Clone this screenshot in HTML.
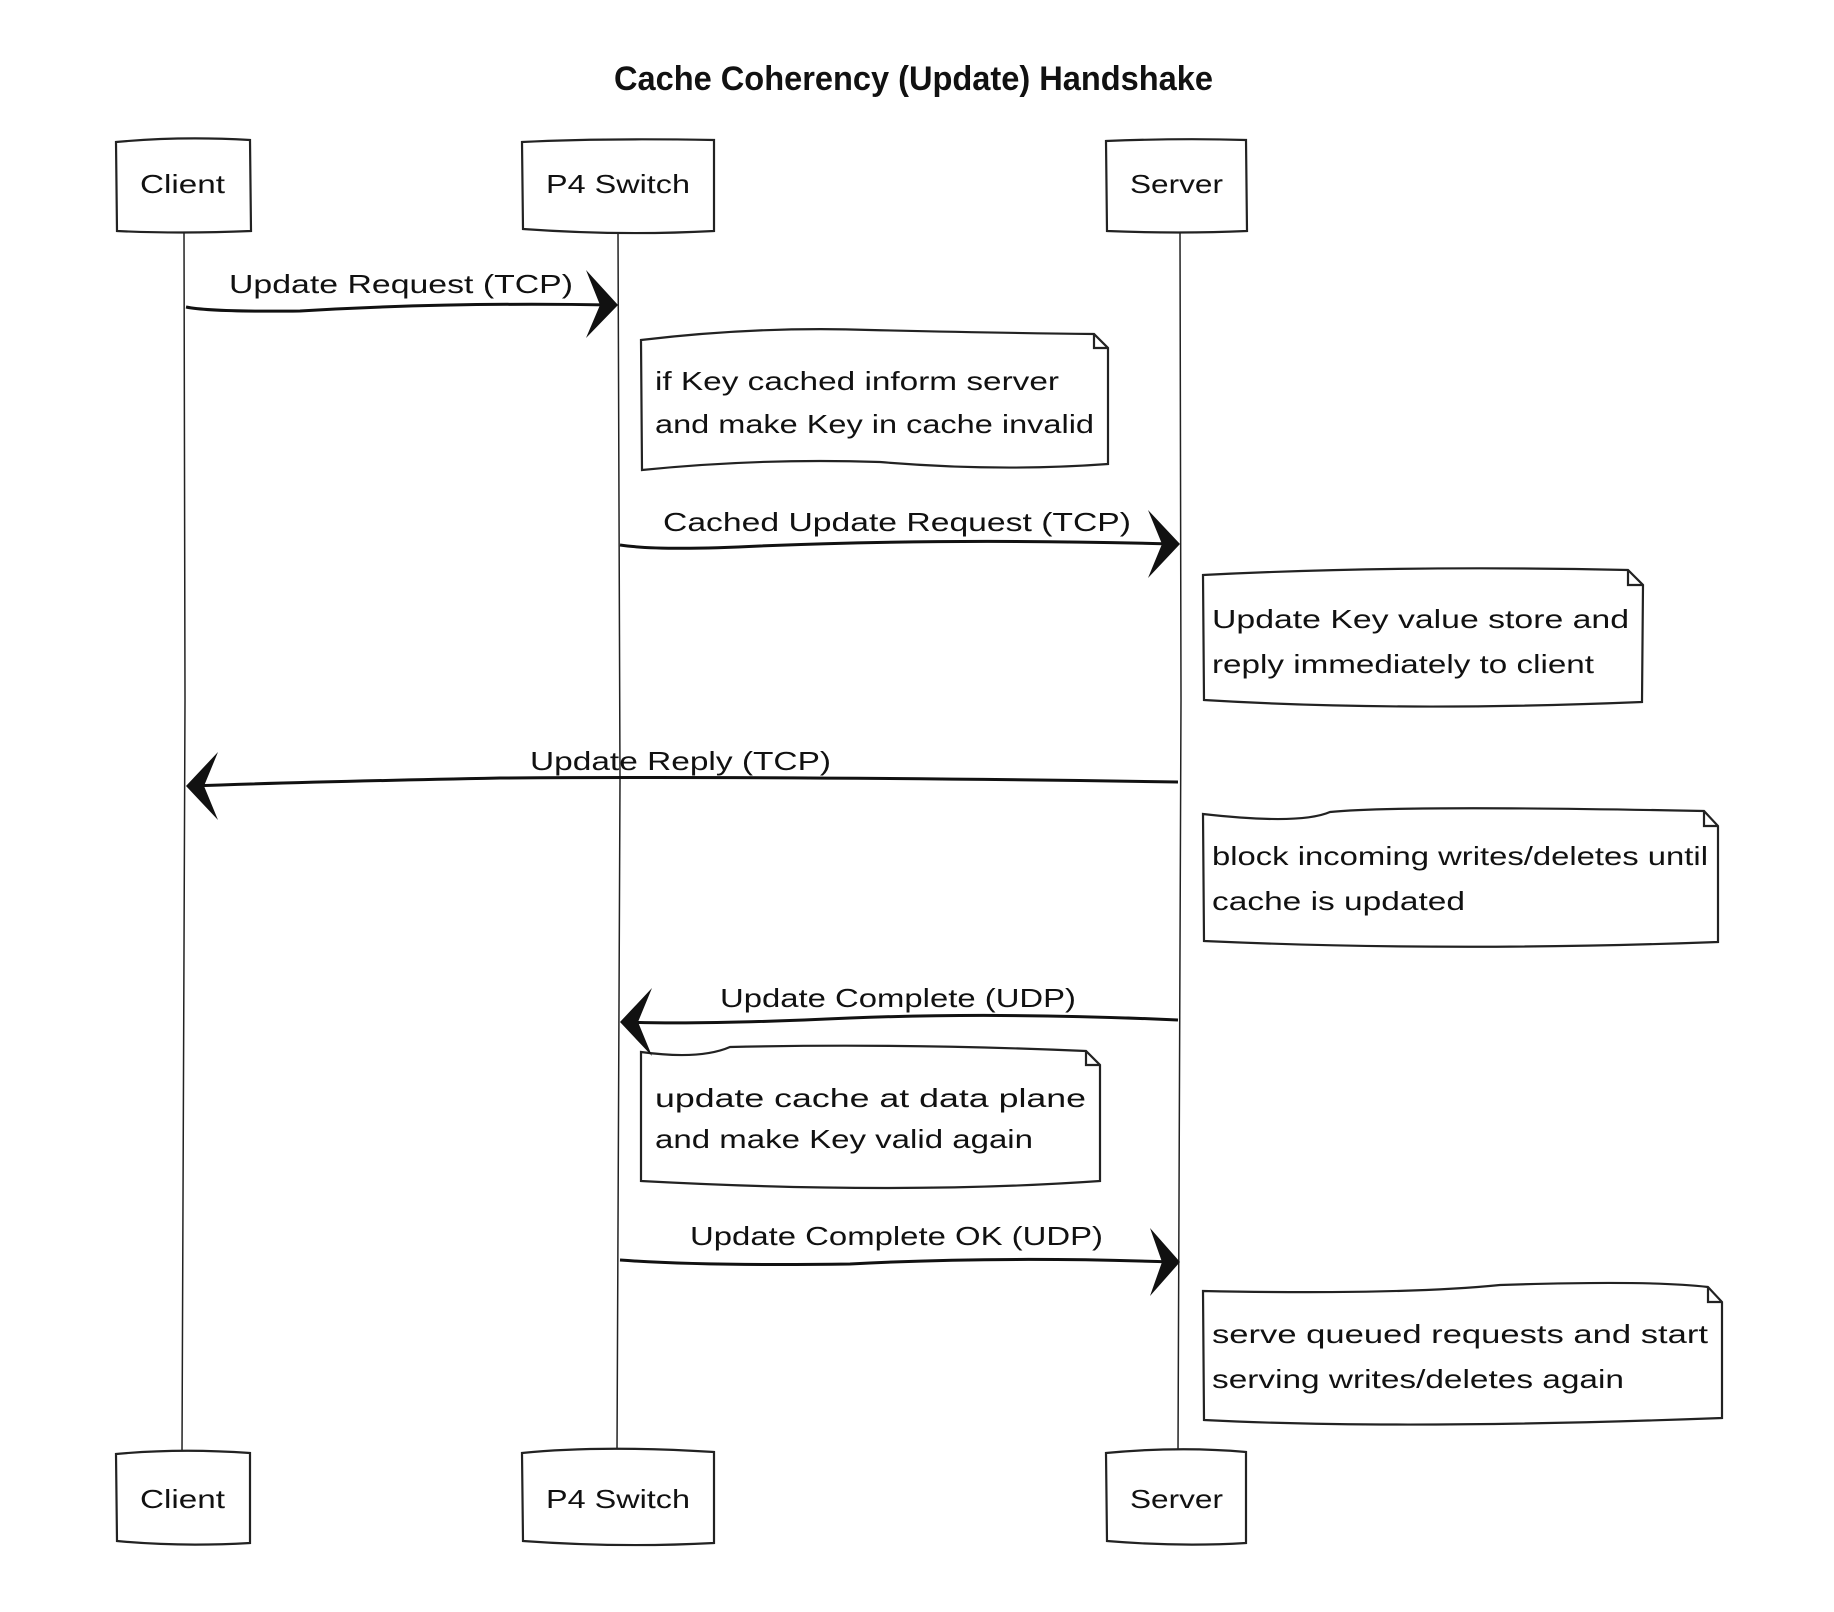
<!DOCTYPE html>
<html><head><meta charset="utf-8"><style>
html,body{margin:0;padding:0;background:#fff}
svg{display:block}
text{font-family:"Liberation Sans",sans-serif;fill:#111}
</style></head><body>
<svg width="1834" height="1612" viewBox="0 0 1834 1612" xmlns="http://www.w3.org/2000/svg">
<g fill="none" stroke="#222" stroke-width="1.5">
<path d="M184 232 L185 700 L182 1452"/>
<path d="M618 232 L620 780 L617 1452"/>
<path d="M1180 232 L1181 700 L1178 1452"/>
</g>
<g fill="#fff" stroke="#222" stroke-width="2.2">
<path d="M116 142 Q180 136 250 140 L251 231 Q180 234 117 231 Z"/>
<path d="M522 142 Q600 138 714 140 L714 231 Q620 236 523 229 Z"/>
<path d="M1106 141 Q1180 138 1246 140 L1247 231 Q1180 234 1107 231 Z"/>
<path d="M116 1454 Q180 1448 250 1453 L250 1543 Q180 1547 117 1541 Z"/>
<path d="M522 1453 Q600 1445 714 1452 L714 1543 Q620 1548 523 1541 Z"/>
<path d="M1106 1453 Q1180 1446 1246 1452 L1246 1543 Q1180 1547 1107 1541 Z"/>
<path d="M641 340 Q760 326 870 330 Q1000 333 1094 334 L1108 348 L1108 464 Q1000 472 880 462 Q760 458 642 470 Z"/>
<path d="M1094 334 L1094 348 L1108 348" fill="none"/>
<path d="M1203 575 Q1400 565 1628 570 L1643 585 L1642 702 Q1400 712 1204 700 Z"/>
<path d="M1628 570 L1628 585 L1643 585" fill="none"/>
<path d="M1203 814 Q1300 825 1330 812 Q1400 805 1704 811 L1718 826 L1718 942 Q1450 952 1204 941 Z"/>
<path d="M1704 811 L1704 826 L1718 826" fill="none"/>
<path d="M641 1052 Q700 1060 730 1047 Q900 1043 1086 1051 L1100 1065 L1100 1181 Q900 1195 641 1181 Z"/>
<path d="M1086 1051 L1086 1065 L1100 1065" fill="none"/>
<path d="M1203 1291 Q1400 1295 1500 1285 Q1650 1280 1708 1287 L1722 1302 L1722 1418 Q1400 1430 1204 1420 Z"/>
<path d="M1708 1287 L1708 1302 L1722 1302" fill="none"/>
</g>
<g fill="none" stroke="#111" stroke-width="3">
<path d="M186 307 Q210 312 300 311 Q450 302 612 305"/>
<path d="M620 545 Q660 551 760 546 Q950 538 1172 544"/>
<path d="M1178 782 Q800 776 500 778 Q300 782 190 786"/>
<path d="M1178 1020 Q1000 1012 850 1018 Q700 1025 624 1022"/>
<path d="M620 1260 Q700 1266 850 1264 Q1000 1256 1172 1262"/>
</g>
<g fill="#111" stroke="none">
<path d="M618 305 L586 270 L600 305 L586 338 Z"/>
<path d="M1180 544 L1148 510 L1162 544 L1148 578 Z"/>
<path d="M186 786 L218 752 L204 786 L218 820 Z"/>
<path d="M620 1022 L652 988 L638 1022 L652 1056 Z"/>
<path d="M1180 1262 L1150 1228 L1162 1262 L1150 1296 Z"/>
</g>
<text x="614" y="90" font-size="34" font-weight="bold" textLength="599" lengthAdjust="spacingAndGlyphs">Cache Coherency (Update) Handshake</text>
<g font-size="26">
<text x="140" y="193" textLength="85" lengthAdjust="spacingAndGlyphs">Client</text>
<text x="546" y="193" textLength="144" lengthAdjust="spacingAndGlyphs">P4 Switch</text>
<text x="1130" y="193" textLength="93" lengthAdjust="spacingAndGlyphs">Server</text>
<text x="140" y="1508" textLength="85" lengthAdjust="spacingAndGlyphs">Client</text>
<text x="546" y="1508" textLength="144" lengthAdjust="spacingAndGlyphs">P4 Switch</text>
<text x="1130" y="1508" textLength="93" lengthAdjust="spacingAndGlyphs">Server</text>

<text x="229" y="293" textLength="344" lengthAdjust="spacingAndGlyphs">Update Request (TCP)</text>
<text x="663" y="531" textLength="468" lengthAdjust="spacingAndGlyphs">Cached Update Request (TCP)</text>
<text x="530" y="770" textLength="301" lengthAdjust="spacingAndGlyphs">Update Reply (TCP)</text>
<text x="720" y="1007" textLength="356" lengthAdjust="spacingAndGlyphs">Update Complete (UDP)</text>
<text x="690" y="1245" textLength="413" lengthAdjust="spacingAndGlyphs">Update Complete OK (UDP)</text>

<text x="655" y="390" textLength="404" lengthAdjust="spacingAndGlyphs">if Key cached inform server</text>
<text x="655" y="433" textLength="439" lengthAdjust="spacingAndGlyphs">and make Key in cache invalid</text>
<text x="1212" y="628" textLength="417" lengthAdjust="spacingAndGlyphs">Update Key value store and</text>
<text x="1212" y="673" textLength="382" lengthAdjust="spacingAndGlyphs">reply immediately to client</text>
<text x="1212" y="865" textLength="496" lengthAdjust="spacingAndGlyphs">block incoming writes/deletes until</text>
<text x="1212" y="910" textLength="253" lengthAdjust="spacingAndGlyphs">cache is updated</text>
<text x="655" y="1107" textLength="431" lengthAdjust="spacingAndGlyphs">update cache at data plane</text>
<text x="655" y="1148" textLength="378" lengthAdjust="spacingAndGlyphs">and make Key valid again</text>
<text x="1212" y="1343" textLength="496" lengthAdjust="spacingAndGlyphs">serve queued requests and start</text>
<text x="1212" y="1388" textLength="412" lengthAdjust="spacingAndGlyphs">serving writes/deletes again</text>
</g>
</svg>
</body></html>
